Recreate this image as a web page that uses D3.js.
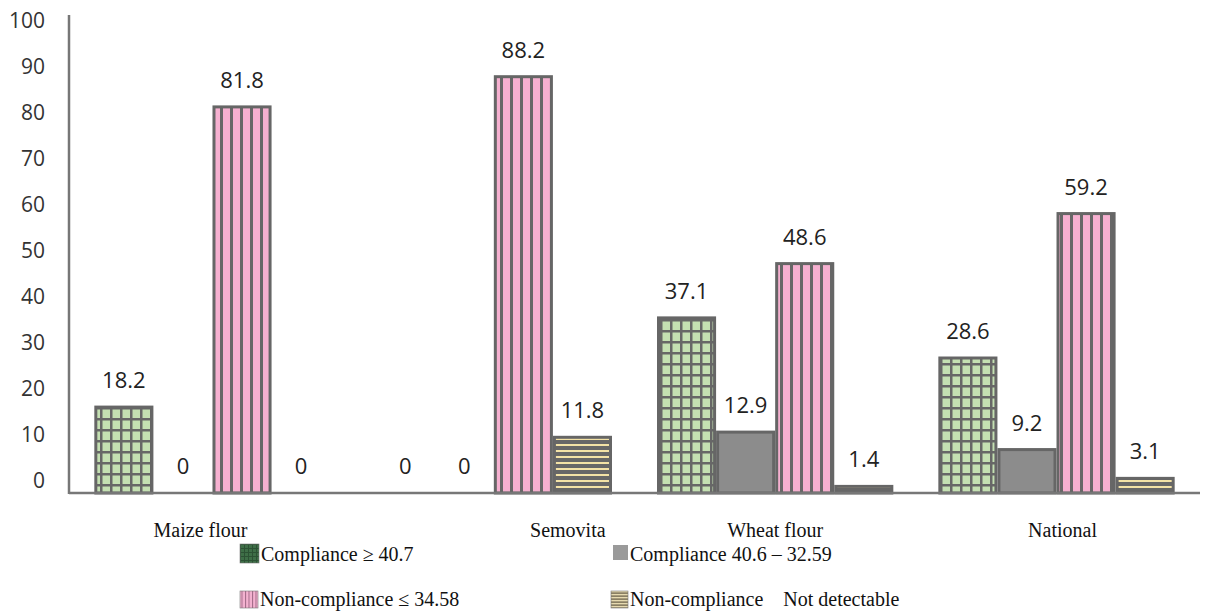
<!DOCTYPE html>
<html>
<head>
<meta charset="utf-8">
<script src="https://cdn.jsdelivr.net/npm/d3@7"></script>
</head>
<body style="margin:0">
<svg id="chart" width="1206" height="612"></svg>
<script>
// Flour samples by compliance class (%)
const categories = ["Maize flour", "Semovita", "Wheat flour", "National"];
const seriesNames = [
  "Compliance \u2265 40.7",
  "Compliance 40.6 \u2013 32.59",
  "Non-compliance \u2264 34.58",
  "Non-compliance    Not detectable"
];
const complianceHigh = [18.2, 0, 37.1, 28.6];
const complianceMid = [0, 0, 12.9, 9.2];
const nonCompliance = [81.8, 88.2, 48.6, 59.2];
const notDetectable = [0, 11.8, 1.4, 3.1];
const yTicks = [0, 10, 20, 30, 40, 50, 60, 70, 80, 90, 100];

const seriesValues = [complianceHigh, complianceMid, nonCompliance, notDetectable];
const seriesKeys = ["high", "mid", "non", "nd"];

const SANS = "Open Sans";
const SERIF = "Liberation Serif";

const svg = d3.select("#chart");
const plotLeft = 69, plotRight = 1200, plotBase = 493, plotTop = 21;

// hatch fills
const defs = svg.append("defs");
function gridPattern(id, w, h, bg, line, lw) {
  const p = defs.append("pattern").attr("id", id).attr("patternUnits", "userSpaceOnUse")
    .attr("width", w).attr("height", h);
  p.append("rect").attr("width", w).attr("height", h).attr("fill", bg);
  p.append("rect").attr("x", 0).attr("y", 0).attr("width", lw).attr("height", h).attr("fill", line);
  p.append("rect").attr("x", 0).attr("y", 0).attr("width", w).attr("height", lw).attr("fill", line);
}
function vStripe(id, w, bg, line, lw) {
  const p = defs.append("pattern").attr("id", id).attr("patternUnits", "userSpaceOnUse")
    .attr("width", w).attr("height", 10);
  p.append("rect").attr("width", w).attr("height", 10).attr("fill", bg);
  p.append("rect").attr("x", 0).attr("width", lw).attr("height", 10).attr("fill", line);
}
function hStripe(id, h, bg, line, lw) {
  const p = defs.append("pattern").attr("id", id).attr("patternUnits", "userSpaceOnUse")
    .attr("width", 10).attr("height", h);
  p.append("rect").attr("width", 10).attr("height", h).attr("fill", bg);
  p.append("rect").attr("y", 0).attr("width", 10).attr("height", lw).attr("fill", line);
}
gridPattern("pGrid", 10, 11, "#c4e0b2", "#676767", 2.5);
vStripe("pPink", 10, "#f6b0d0", "#676767", 3);
hStripe("pTan", 6, "#676767", "#f3e2a6", 2);
gridPattern("pGridLeg", 4, 4, "#3e6e47", "#2c5234", 1);
vStripe("pPinkLeg", 3.5, "#f4b2d0", "#a06a86", 1);
hStripe("pTanLeg", 3, "#8a8064", "#e6dab0", 1.3);

const fills = { high: "url(#pGrid)", mid: "#8c8c8c", non: "url(#pPink)", nd: "url(#pTan)" };
const legendFills = { high: "url(#pGridLeg)", mid: "#9a9a9a", non: "url(#pPinkLeg)", nd: "url(#pTanLeg)" };

const x0 = d3.scaleBand().domain(categories).range([plotLeft, plotRight])
  .paddingInner(0.16).paddingOuter(0.09);
const x1 = d3.scaleBand().domain(seriesKeys).range([0, x0.bandwidth()]);
const y = d3.scaleLinear().domain([0, 100]).range([plotBase, plotTop]);
// tick text sits on its own slightly tighter spacing
const yText = d3.scaleLinear().domain([0, 100]).range([480, 20]);

// y tick labels
const yAxis = svg.append("g").attr("transform", "translate(45,0)")
  .call(d3.axisLeft(yText).tickValues(yTicks).tickSize(0).tickPadding(0));
yAxis.select(".domain").remove();
yAxis.selectAll("text")
  .attr("font-family", SANS).attr("font-size", 21)
  .attr("fill", "#333").attr("dy", "0.35em");

// bars
const rows = [];
categories.forEach((c, i) => {
  seriesKeys.forEach((k, j) => rows.push({ cat: c, key: k, value: seriesValues[j][i] }));
});

svg.append("g").selectAll("rect").data(rows.filter(d => d.value > 0)).join("rect")
  .attr("x", d => x0(d.cat) + x1(d.key) + 1.5)
  .attr("y", d => y(d.value))
  .attr("width", x1.bandwidth() - 3)
  .attr("height", d => plotBase - y(d.value))
  .attr("fill", d => fills[d.key])
  .attr("stroke", "#666")
  .attr("stroke-width", 3);

// value labels
svg.append("g").selectAll("text").data(rows).join("text")
  .attr("font-family", SANS).attr("font-size", 22).attr("fill", "#222")
  .attr("text-anchor", "middle")
  .attr("x", d => x0(d.cat) + x1(d.key) + x1.bandwidth() / 2)
  .attr("y", d => y(d.value) - 19)
  .text(d => d3.format("~f")(d.value));

// axis lines
svg.append("line").attr("x1", plotLeft).attr("x2", plotLeft).attr("y1", 15).attr("y2", plotBase + 1)
  .attr("stroke", "#777").attr("stroke-width", 2.5);
svg.append("line").attr("x1", plotLeft).attr("x2", plotRight).attr("y1", plotBase).attr("y2", plotBase)
  .attr("stroke", "#777").attr("stroke-width", 2.5);

// category labels (nudged where the original layout shifts them)
const labelNudge = { "Maize flour": -12, "Semovita": 74, "Wheat flour": 0, "National": 6 };
const xAxis = svg.append("g").attr("transform", `translate(0,${plotBase})`)
  .call(d3.axisBottom(x0).tickSize(0).tickPadding(0));
xAxis.select(".domain").remove();
xAxis.selectAll(".tick text")
  .attr("font-family", SERIF).attr("font-size", 20).attr("fill", "#111")
  .attr("dy", null).attr("y", 44)
  .attr("x", d => labelNudge[d]);

// legend
const legendPos = [[240, 544], [613, 545], [240, 591], [611, 591]];
const legendSize = [[19, 19], [15, 15], [18, 17], [17, 17]];
const legend = svg.append("g");
seriesKeys.forEach((k, i) => {
  const [lx, ly] = legendPos[i];
  const [w, h] = legendSize[i];
  legend.append("rect").attr("x", lx).attr("y", ly).attr("width", w).attr("height", h)
    .attr("fill", legendFills[k]).attr("stroke", k === "mid" ? "none" : "#777").attr("stroke-width", 0.6);
  legend.append("text")
    .attr("font-family", SERIF).attr("font-size", 20).attr("fill", "#111")
    .attr("xml:space", "preserve")
    .attr("x", lx + w + 2).attr("y", i < 2 ? 561 : 606)
    .text(seriesNames[i]);
});
</script>
</body>
</html>
